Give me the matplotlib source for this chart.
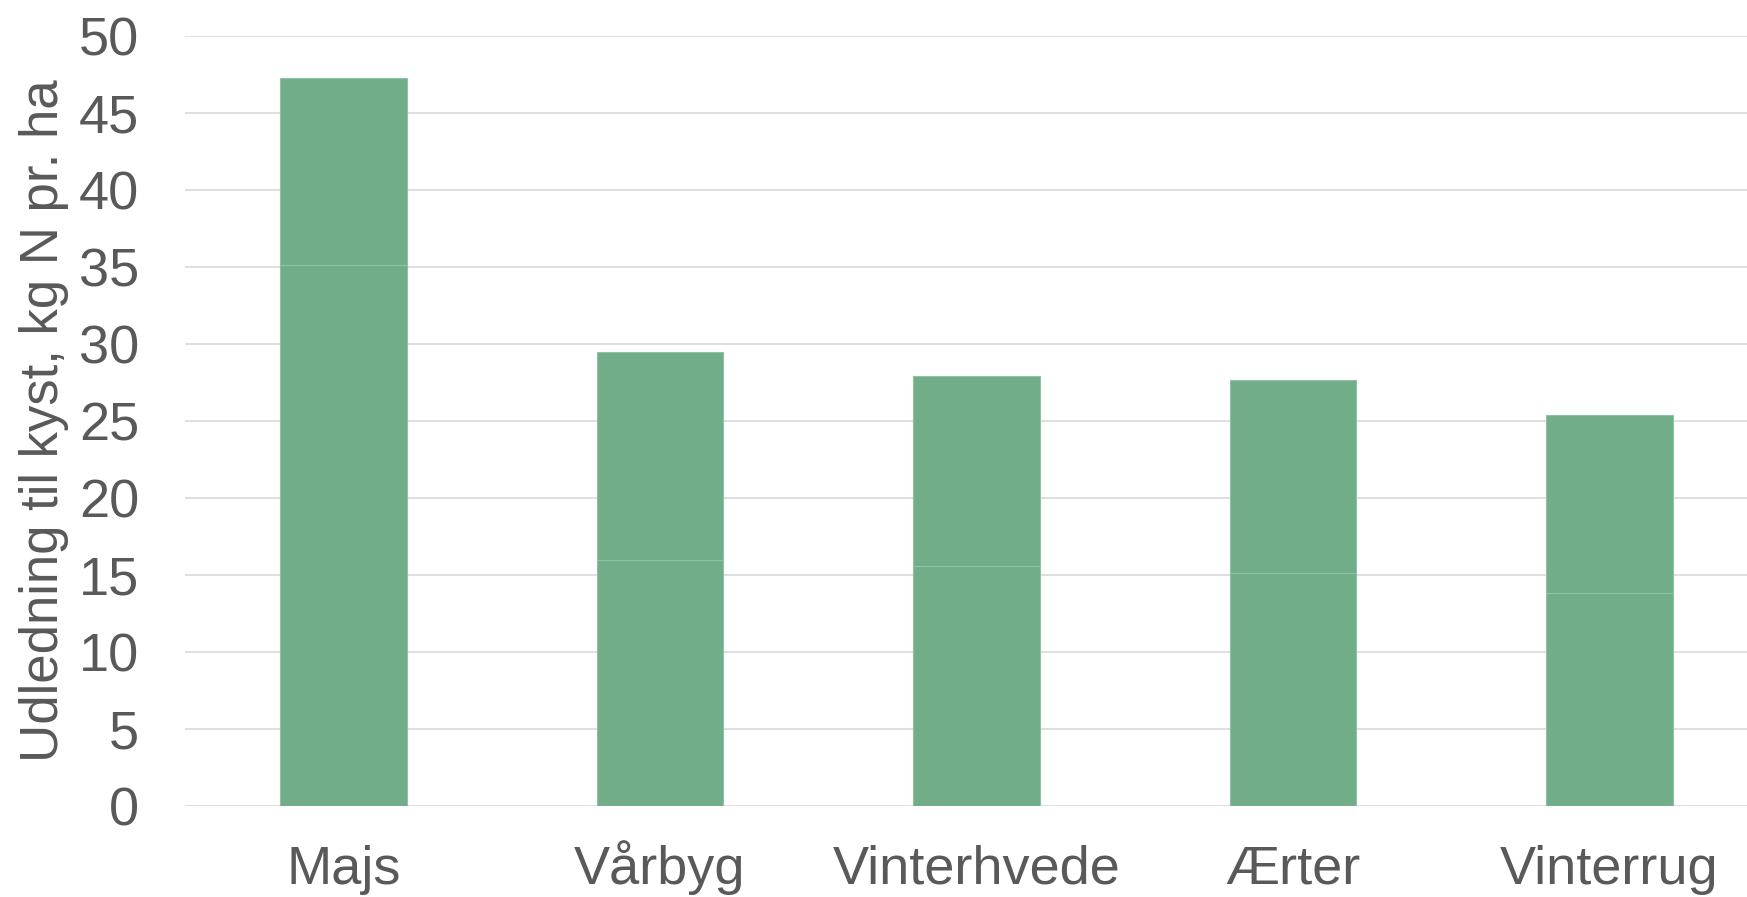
import numpy as np
import matplotlib.pyplot as plt

plt.rcParams['font.family'] = ['Liberation Sans', 'DejaVu Sans']

crops = ['Majs', 'Vårbyg', 'Vinterhvede', 'Ærter', 'Vinterrug']
lower = [35.1, 16.0, 15.6, 15.1, 13.8]
upper = [12.15, 13.45, 12.3, 12.55, 11.6]
yticks = [0, 5, 10, 15, 20, 25, 30, 35, 40, 45, 50]

green = '#71ad89'
edge = '#8fc2a3'
grey = '#595959'

fig = plt.figure(figsize=(17.47, 8.97), dpi=100)
ax = fig.add_axes([0.1059, 0.1014, 0.906, 0.8588])

x = np.arange(len(crops))
ax.bar(x, lower, width=0.4, color=green, edgecolor=edge, linewidth=0.8, zorder=2)
ax.bar(x, upper, width=0.4, bottom=lower, color=green, edgecolor=edge, linewidth=0.8, zorder=2)

ax.set_xlim(-0.5, 4.5)
ax.set_ylim(0, 50)
ax.set_yticks(yticks)
ax.set_xticks(x)
ax.set_xticklabels(crops, va='baseline')
ax.yaxis.grid(True, color='#d9d9d9', linewidth=1.2, zorder=0)
ax.set_axisbelow(True)
for s in ax.spines.values():
    s.set_visible(False)
ax.tick_params(axis='both', length=0, labelsize=39, colors=grey)
ax.tick_params(axis='y', pad=33)
ax.tick_params(axis='x', pad=56)
ax.set_ylabel('Udledning til kyst, kg N pr. ha', fontsize=38, color=grey)
ax.yaxis.set_label_coords(-0.0735, 0.5)

fig.savefig('out.png', dpi=100)
